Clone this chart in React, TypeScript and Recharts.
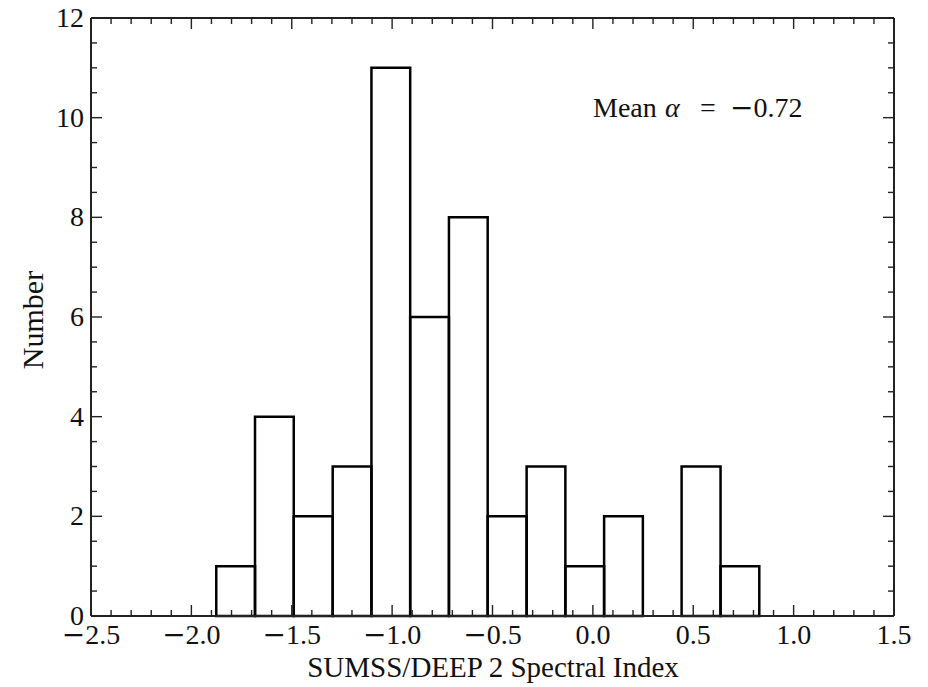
import React from 'react';
import { ComposedChart, XAxis, YAxis, ReferenceArea, Customized } from 'recharts';

// histogram bins
const binEdges = [-1.876, -1.683, -1.49, -1.296, -1.103, -0.91, -0.717, -0.524, -0.33, -0.137, 0.056, 0.249, 0.442, 0.636, 0.829];
const binCounts = [1, 4, 2, 3, 11, 6, 8, 2, 3, 1, 2, 0, 3, 1];

const xTicks = [
  -2.5, -2.4, -2.3, -2.2, -2.1, -2.0, -1.9, -1.8, -1.7, -1.6, -1.5, -1.4, -1.3, -1.2, -1.1,
  -1.0, -0.9, -0.8, -0.7, -0.6, -0.5, -0.4, -0.3, -0.2, -0.1, 0.0, 0.1, 0.2, 0.3, 0.4,
  0.5, 0.6, 0.7, 0.8, 0.9, 1.0, 1.1, 1.2, 1.3, 1.4, 1.5,
];
const yTicks = [0, 0.5, 1, 1.5, 2, 2.5, 3, 3.5, 4, 4.5, 5, 5.5, 6, 6.5, 7, 7.5, 8, 8.5, 9, 9.5, 10, 10.5, 11, 11.5, 12];

const FONT = '"Liberation Serif", "Times New Roman", serif';
const MINUS_FONT = '"DejaVu Serif", serif'; // wider minus, closer to the mathtext one
const INK = '#222';

const bins = binCounts.map((count, i) => ({ x0: binEdges[i], x1: binEdges[i + 1], count }));

const isMajorX = (v: number) => Math.abs(v * 2 - Math.round(v * 2)) < 1e-6;
const isMajorY = (v: number) => Math.abs(v / 2 - Math.round(v / 2)) < 1e-6;

const XLabel = ({ v }: { v: number }) => {
  const s = Math.abs(v).toFixed(1);
  if (v < -1e-9) {
    return (
      <>
        <tspan fontFamily={MINUS_FONT}>{'\u2212'}</tspan>
        <tspan>{s}</tspan>
      </>
    );
  }
  return <>{s}</>;
};

// ticks point into the plot on all four sides
const BottomTick = ({ x, y, payload }: any) => {
  const major = isMajorX(payload.value);
  return (
    <g>
      <line x1={x} y1={y} x2={x} y2={y - (major ? 11 : 6)} stroke={INK} strokeWidth={1.4} />
      {major && (
        <text x={x} y={y + 28} textAnchor="middle" fontFamily={FONT} fontSize={28} fill="#111">
          <XLabel v={payload.value} />
        </text>
      )}
    </g>
  );
};

const TopTick = ({ x, y, payload }: any) => {
  const major = isMajorX(payload.value);
  return <line x1={x} y1={y} x2={x} y2={y + (major ? 11 : 6)} stroke={INK} strokeWidth={1.4} />;
};

const LeftTick = ({ x, y, payload }: any) => {
  const major = isMajorY(payload.value);
  return (
    <g>
      <line x1={x} y1={y} x2={x + (major ? 11 : 6)} y2={y} stroke={INK} strokeWidth={1.4} />
      {major && (
        <text x={x - 7} y={y + 9} textAnchor="end" fontFamily={FONT} fontSize={28} fill="#111">
          {payload.value}
        </text>
      )}
    </g>
  );
};

const RightTick = ({ x, y, payload }: any) => {
  const major = isMajorY(payload.value);
  return <line x1={x} y1={y} x2={x - (major ? 11 : 6)} y2={y} stroke={INK} strokeWidth={1.4} />;
};

const Titles = () => (
  <g fontFamily={FONT} fill="#111">
    <text x={493} y={677} textAnchor="middle" fontSize={29}>
      SUMSS/DEEP{'\u2009'}2 Spectral Index
    </text>
    <text x={43} y={320} textAnchor="middle" fontSize={30} transform="rotate(-90, 43, 320)">
      Number
    </text>
    <text y={117} fontSize={28}>
      <tspan x={593}>Mean</tspan>
      <tspan x={665} fontStyle="italic">{'\u03b1'}</tspan>
      <tspan x={700}>=</tspan>
      <tspan x={730} fontFamily={MINUS_FONT}>{'\u2212'}</tspan>
      <tspan>0.72</tspan>
    </text>
  </g>
);

export default function App() {
  return (
    <div style={{ position: 'absolute', left: 0, top: 0, width: 928, height: 687, background: '#fff' }}>
      <ComposedChart
        width={928}
        height={687}
        data={bins}
        margin={{ top: 17, right: 33, bottom: 70, left: 90 }}
      >
        <XAxis
          xAxisId="bottom"
          type="number"
          dataKey="x0"
          domain={[-2.5, 1.5]}
          ticks={xTicks}
          interval={0}
          height={1}
          tickSize={0}
          tickMargin={0}
          tickLine={false}
          axisLine={{ stroke: INK, strokeWidth: 2 }}
          tick={<BottomTick />}
          allowDataOverflow
        />
        <XAxis
          xAxisId="top"
          orientation="top"
          type="number"
          dataKey="x0"
          domain={[-2.5, 1.5]}
          ticks={xTicks}
          interval={0}
          height={1}
          tickSize={0}
          tickMargin={0}
          tickLine={false}
          axisLine={{ stroke: INK, strokeWidth: 2 }}
          tick={<TopTick />}
          allowDataOverflow
        />
        <YAxis
          yAxisId="left"
          type="number"
          dataKey="count"
          domain={[0, 12]}
          ticks={yTicks}
          interval={0}
          width={1}
          tickSize={0}
          tickMargin={0}
          tickLine={false}
          axisLine={{ stroke: INK, strokeWidth: 2 }}
          tick={<LeftTick />}
          allowDataOverflow
        />
        <YAxis
          yAxisId="right"
          orientation="right"
          type="number"
          dataKey="count"
          domain={[0, 12]}
          ticks={yTicks}
          interval={0}
          width={1}
          tickSize={0}
          tickMargin={0}
          tickLine={false}
          axisLine={{ stroke: INK, strokeWidth: 2 }}
          tick={<RightTick />}
          allowDataOverflow
        />
        {bins
          .filter((b) => b.count > 0)
          .map((b, i) => (
            <ReferenceArea
              key={i}
              xAxisId="bottom"
              yAxisId="left"
              x1={b.x0}
              x2={b.x1}
              y1={0}
              y2={b.count}
              fill="none"
              fillOpacity={0}
              stroke="#000"
              strokeWidth={2.5}
              strokeOpacity={1}
              ifOverflow="visible"
            />
          ))}
        <Customized component={<Titles />} />
      </ComposedChart>
    </div>
  );
}
